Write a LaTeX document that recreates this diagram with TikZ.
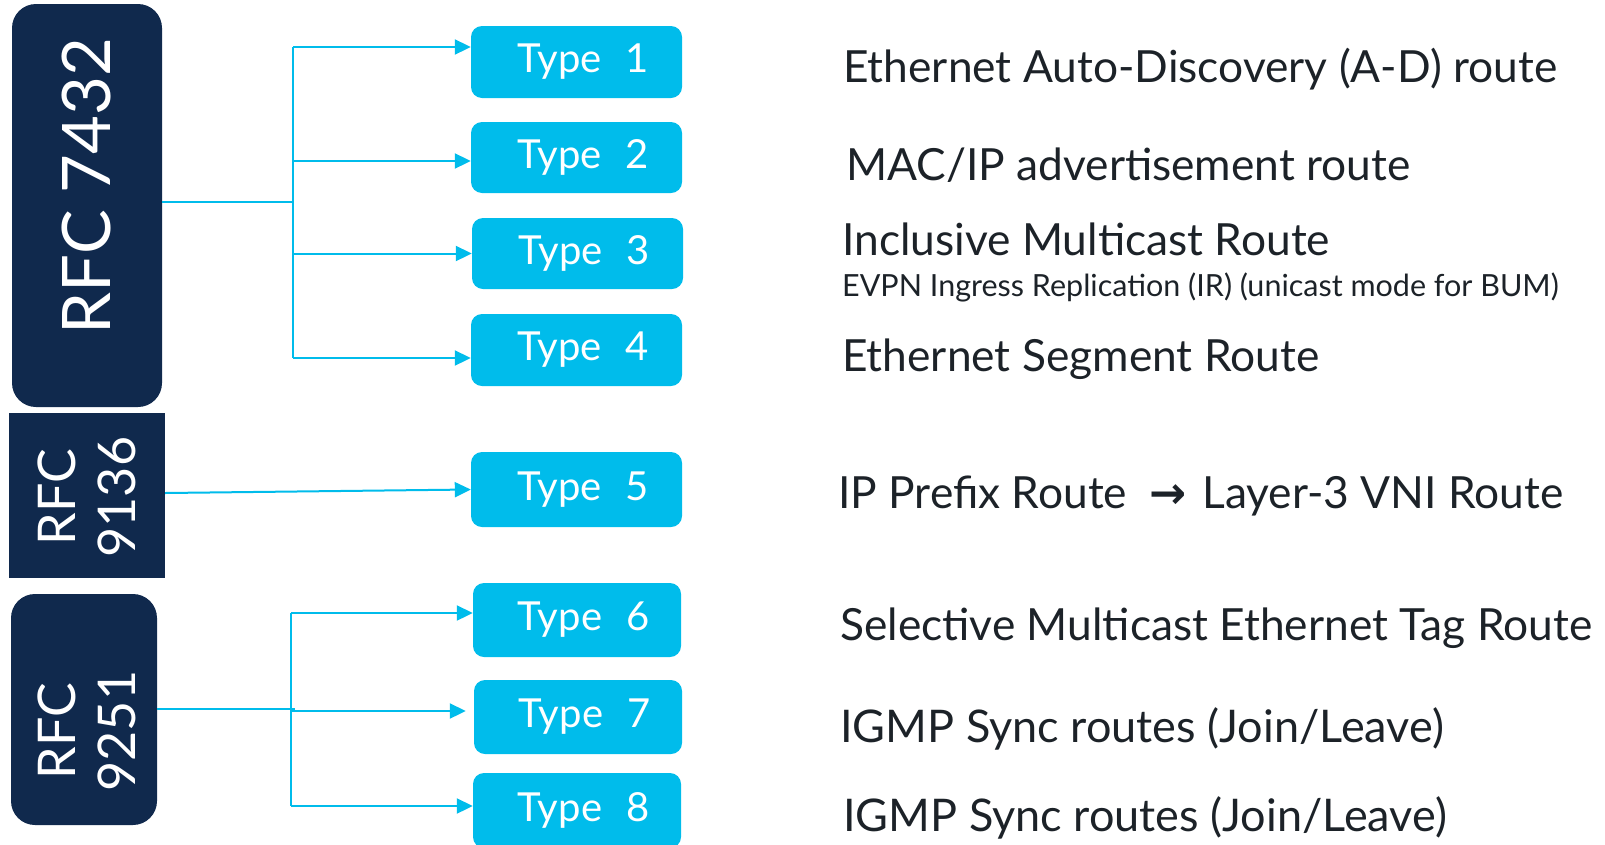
\documentclass[tikz,border=0pt]{standalone}
\usepackage{fontspec}
\setmainfont{Lato}
\newfontfamily\arrowfont{DejaVu Sans}
\usetikzlibrary{arrows.meta}
\definecolor{navy}{HTML}{10294D}
\definecolor{cyanb}{HTML}{00BCEB}
\definecolor{txt}{HTML}{1C2228}
\newcommand{\typelabel}[1]{\hspace*{13pt}Type\hspace{0.6em}#1}
\begin{document}
\begin{tikzpicture}[x=1pt,y=-1pt,
  rfcbox/.style={fill=navy, draw=none, rounded corners=24pt, inner sep=0pt},
  rfctext/.style={text=white, rotate=90, inner sep=0pt, align=center},
  typebox/.style={fill=cyanb, draw=none, rounded corners=11pt, minimum width=211pt, minimum height=72pt,
     text=white, font=\fontsize{40}{42}\selectfont, inner sep=0pt},
  wire/.style={draw=cyanb, line width=2pt},
  arr/.style={wire, -{Triangle[length=16pt,width=15pt]}},
  lab/.style={anchor=base west, text=txt, font=\fontsize{44.3}{48}\selectfont, inner sep=0pt},
  sublab/.style={anchor=base west, text=txt, font=\fontsize{30.5}{34}\selectfont, inner sep=0pt}]
\useasboundingbox (0,0) rectangle (1605,844);

% RFC boxes
\node[rfcbox, minimum width=150pt, minimum height=403pt] (r1) at (87,205.5) {};
\node[rfctext, font=\fontsize{67}{70}\selectfont] (r1t) at (86,186) {RFC 7432};
\node[rfcbox, rounded corners=0pt, minimum width=156pt, minimum height=165pt] (r2) at (87,495.5) {};
\node[rfctext, font=\fontsize{52}{60}\selectfont] (r2t) at (86.5,497) {RFC\\9136};
\node[rfcbox, minimum width=146pt, minimum height=231pt] (r3) at (84,709.5) {};
\node[rfctext, font=\fontsize{52}{60}\selectfont] (r3t) at (87,731) {RFC\\9251};

% Type boxes
\node[typebox] (t1) at (576.5,62) {\typelabel{1}};
\node[typebox, minimum height=71pt] (t2) at (576.5,157.5) {\typelabel{2}};
\node[typebox, minimum height=71pt] (t3) at (577.5,253.5) {\typelabel{3}};
\node[typebox] (t4) at (576.5,350) {\typelabel{4}};
\node[typebox, minimum height=75pt] (t5) at (576.5,489.5) {\typelabel{5}};
\node[typebox, minimum width=208pt, minimum height=74pt] (t6) at (577,620) {\typelabel{6}};
\node[typebox, minimum width=208pt, minimum height=74pt] (t7) at (578,717) {\typelabel{7}};
\node[typebox, minimum width=208pt, minimum height=75pt] (t8) at (577,810.5) {\typelabel{8}};

% RFC 7432 connectors
\coordinate (bus1) at (293,202);
\coordinate (a1) at ([yshift=15pt]t1.west);
\coordinate (a2) at ([yshift=-3.5pt]t2.west);
\coordinate (a3) at (t3.west);
\coordinate (a4) at ([yshift=-8pt]t4.west);
\draw[wire] (r1.east |- bus1) -- (bus1);
\draw[wire] (bus1 |- a1) -- (bus1 |- a4);
\draw[arr] (bus1 |- a1) -- (a1);
\draw[arr] (bus1 |- a2) -- (a2);
\draw[arr] (bus1 |- a3) -- (a3);
\draw[arr] (bus1 |- a4) -- (a4);

% RFC 9136 connector
\draw[arr] ([yshift=2.5pt]r2.east) -- (t5.west);

% RFC 9251 connectors
\coordinate (bus3) at (291,709);
\coordinate (a6) at ([yshift=7pt]t6.west);
\coordinate (a7) at ([xshift=-8pt,yshift=6pt]t7.west);
\coordinate (a8) at ([yshift=4.5pt]t8.west);
\draw[wire] (r3.east |- bus3) -- ([xshift=4pt]bus3);
\draw[wire] (bus3 |- a6) -- (bus3 |- a8);
\draw[arr] (bus3 |- a6) -- (a6);
\draw[arr] (bus3 |- a7) -- (a7);
\draw[arr] (bus3 |- a8) -- (a8);

% Descriptions
\node[lab] (l1) at (843,82) {Ethernet Auto-Discovery (A-D) route};
\node[lab] (l2) at (846,180) {MAC/IP advertisement route};
\node[lab] (l3) at (842,255) {Inclusive Multicast Route};
\node[sublab] (l3b) at (842,296) {EVPN Ingress Replication (IR) (unicast mode for BUM)};
\node[lab] (l4) at (842,371) {Ethernet Segment Route};
\node[lab] (l5) at (838,508) {IP Prefix Route\hspace{22pt}{\arrowfont\bfseries →}\hspace{16pt}Layer-3 VNI Route};
\node[lab] (l6) at (840,640) {Selective Multicast Ethernet Tag Route};
\node[lab, font=\fontsize{45}{48}\selectfont] (l7) at (840,742) {IGMP Sync routes (Join/Leave)};
\node[lab, font=\fontsize{45}{48}\selectfont] (l8) at (843,831) {IGMP Sync routes (Join/Leave)};
\end{tikzpicture}
\end{document}
